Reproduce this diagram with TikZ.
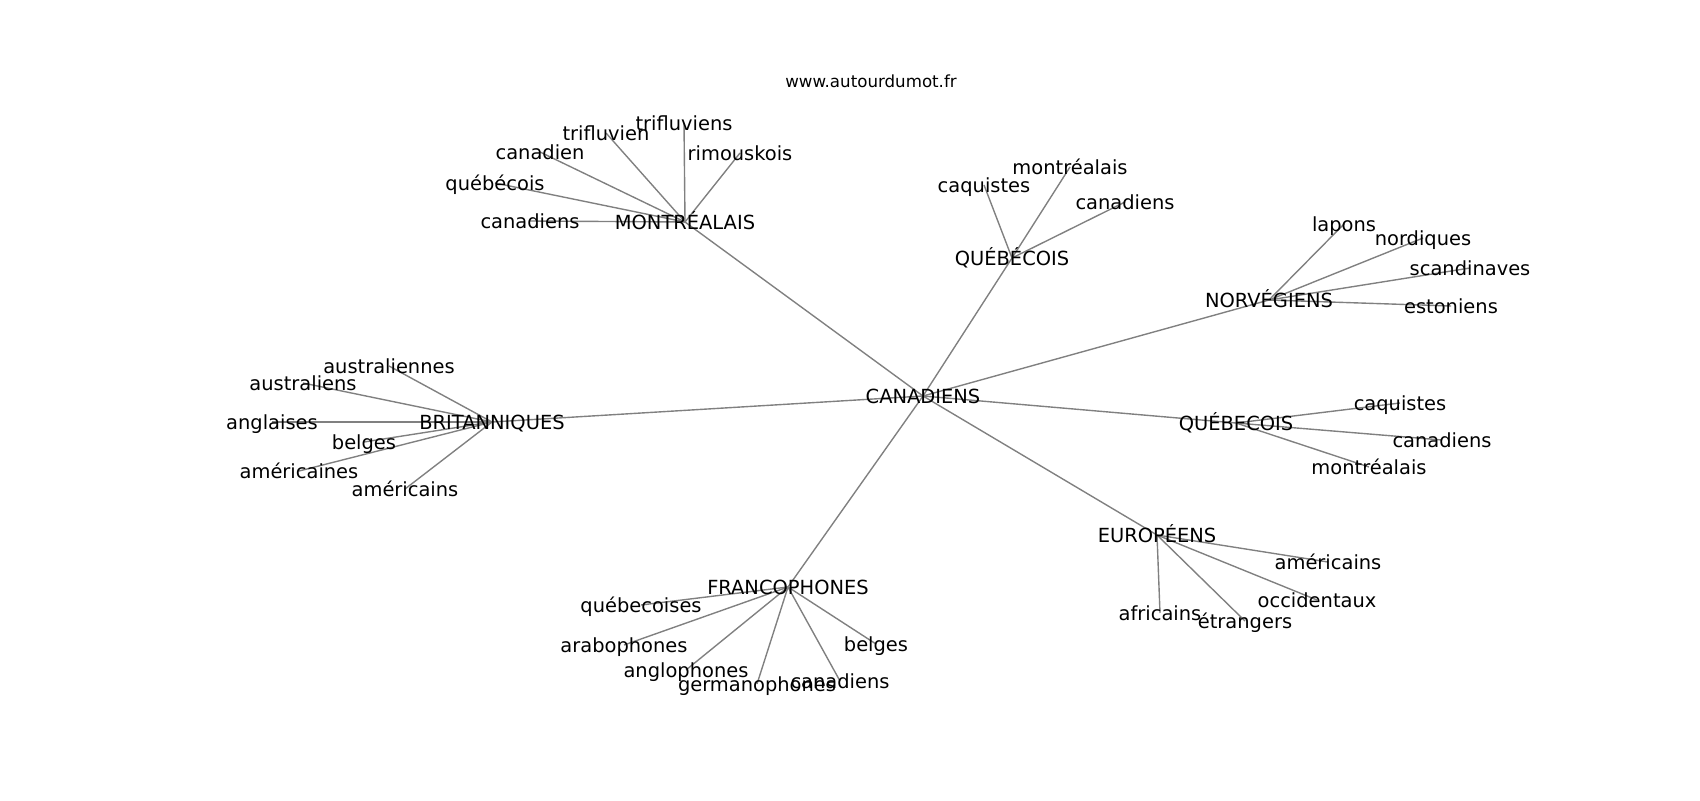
\documentclass[tikz,border=0pt]{standalone}
\usepackage{fontspec}
\setmainfont{DejaVu Sans}
\usetikzlibrary{backgrounds}
\begin{document}
\begin{tikzpicture}[x=0.72pt,y=-0.72pt,
  lbl/.style={inner sep=0pt, text height=13.1pt, text depth=2.9pt, font=\fontsize{14}{16}\selectfont},
  ttl/.style={inner sep=0pt, text height=11.1pt, text depth=2.5pt, font=\fontsize{12}{14}\selectfont},
  edge/.style={draw=black!50, line width=1pt}]
\useasboundingbox (0,0) rectangle (1700,800);
\node[ttl] (title) at (871,82) {www.autourdumot.fr};
% hub
\node[lbl] (c) at (923,396) {CANADIENS};
% MONTREALAIS
\node[lbl] (m) at (685,222) {MONTRÉALAIS};
\node[lbl] (m1) at (530,221) {canadiens};
\node[lbl] (m2) at (495,183) {québécois};
\node[lbl] (m3) at (540,152) {canadien};
\node[lbl] (m4) at (606,133) {trifluvien};
\node[lbl] (m5) at (684,123) {trifluviens};
\node[lbl] (m6) at (740,153) {rimouskois};
% QUEBECOIS top
\node[lbl] (q) at (1012,258) {QUÉBÉCOIS};
\node[lbl] (q1) at (984,185) {caquistes};
\node[lbl] (q2) at (1070,167) {montréalais};
\node[lbl] (q3) at (1125,202) {canadiens};
% NORVEGIENS
\node[lbl] (n) at (1269,300) {NORVÉGIENS};
\node[lbl] (n1) at (1344,224) {lapons};
\node[lbl] (n2) at (1423,238) {nordiques};
\node[lbl] (n3) at (1470,268) {scandinaves};
\node[lbl] (n4) at (1451,306) {estoniens};
% BRITANNIQUES
\node[lbl] (b) at (492,422) {BRITANNIQUES};
\node[lbl] (b1) at (389,366) {australiennes};
\node[lbl] (b2) at (303,383) {australiens};
\node[lbl] (b3) at (272,422) {anglaises};
\node[lbl] (b4) at (364,442) {belges};
\node[lbl] (b5) at (299,471) {américaines};
\node[lbl] (b6) at (405,489) {américains};
% QUEBECOIS right
\node[lbl] (r) at (1236,423) {QUÉBECOIS};
\node[lbl] (r1) at (1400,403) {caquistes};
\node[lbl] (r2) at (1442,440) {canadiens};
\node[lbl] (r3) at (1369,467) {montréalais};
% EUROPEENS
\node[lbl] (e) at (1157,535) {EUROPÉENS};
\node[lbl] (e1) at (1328,562) {américains};
\node[lbl] (e2) at (1317,600) {occidentaux};
\node[lbl] (e3) at (1245,621) {étrangers};
\node[lbl] (e4) at (1160,613) {africains};
% FRANCOPHONES
\node[lbl] (f) at (788,587) {FRANCOPHONES};
\node[lbl] (f1) at (641,605) {québecoises};
\node[lbl] (f2) at (624,645) {arabophones};
\node[lbl] (f3) at (686,670) {anglophones};
\node[lbl] (f4) at (757,684) {germanophones};
\node[lbl] (f5) at (840,681) {canadiens};
\node[lbl] (f6) at (876,644) {belges};
\begin{scope}[on background layer]
  \foreach \h in {m,q,n,b,r,e,f} \draw[edge] (c.center) -- (\h.center);
  \foreach \k in {1,...,6} \draw[edge] (m.center) -- (m\k.center);
  \foreach \k in {1,...,3} \draw[edge] (q.center) -- (q\k.center);
  \foreach \k in {1,...,4} \draw[edge] (n.center) -- (n\k.center);
  \foreach \k in {1,...,6} \draw[edge] (b.center) -- (b\k.center);
  \foreach \k in {1,...,3} \draw[edge] (r.center) -- (r\k.center);
  \foreach \k in {1,...,4} \draw[edge] (e.center) -- (e\k.center);
  \foreach \k in {1,...,6} \draw[edge] (f.center) -- (f\k.center);
\end{scope}
\end{tikzpicture}
\end{document}
